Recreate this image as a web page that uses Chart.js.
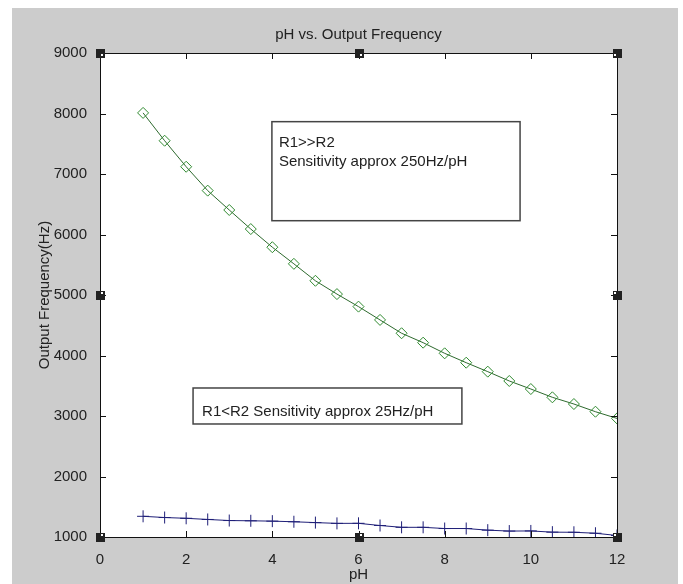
<!DOCTYPE html>
<html>
<head>
<meta charset="utf-8">
<title>pH vs. Output Frequency</title>
<script src="https://cdn.jsdelivr.net/npm/chart.js@4.4.0/dist/chart.umd.min.js"></script>
<style>
  html, body { margin: 0; padding: 0; background: #fff; }
  #wrap { position: relative; width: 683px; height: 584px; }
  #bg { position: absolute; left: 12px; top: 8px; width: 666px; height: 576px; background: #cccccc; }
  #chart { position: absolute; left: 0; top: 0; }
</style>
</head>
<body>
<div id="wrap">
  <div id="bg"></div>
  <canvas id="chart" width="683" height="584"></canvas>
</div>
<script>
// pH values on the x axis
const phValues = [1, 1.5, 2, 2.5, 3, 3.5, 4, 4.5, 5, 5.5, 6, 6.5, 7, 7.5, 8, 8.5, 9, 9.5, 10, 10.5, 11, 11.5, 12];

// R1>>R2 (green diamonds)
const freqHigh = [8010, 7550, 7120, 6725, 6405, 6090, 5790, 5515, 5235, 5015, 4808, 4588, 4368, 4212, 4036, 3881, 3733, 3579, 3446, 3309, 3198, 3071, 2960];

// R1<R2 (blue plus)
const freqLow = [1342, 1322, 1309, 1290, 1272, 1268, 1262, 1252, 1238, 1225, 1226, 1190, 1160, 1160, 1140, 1140, 1113, 1098, 1100, 1080, 1078, 1062, 1025];

// tick labels
const xTicks = [0, 2, 4, 6, 8, 10, 12];
const yTicks = [1000, 2000, 3000, 4000, 5000, 6000, 7000, 8000, 9000];

// text boxes, in data units
const notes = [
  { lines: ['R1>>R2', 'Sensitivity approx 250Hz/pH'], x0: 3.99, x1: 9.75, y0: 7865, y1: 6228, dx: 7, dy: 25, lh: 19 },
  { lines: ['R1<R2 Sensitivity approx 25Hz/pH'], x0: 2.16, x1: 8.4, y0: 3463, y1: 2868, dx: 9, dy: 28, lh: 19 }
];

const FONT = '"Liberation Sans", Arial, sans-serif';
const TEXT = '#222';

const matlabFrame = {
  id: 'matlabFrame',
  beforeDraw(chart) {
    const { ctx, chartArea: a } = chart;
    ctx.save();
    ctx.fillStyle = '#fff';
    ctx.fillRect(a.left, a.top, a.right - a.left, a.bottom - a.top);
    ctx.restore();
  },
  afterDraw(chart) {
    const { ctx, chartArea: a, scales } = chart;
    const xs = scales.x, ys = scales.y;
    ctx.save();

    // frame
    ctx.strokeStyle = '#111';
    ctx.lineWidth = 1;
    ctx.strokeRect(Math.round(a.left) + 0.5, Math.round(a.top) + 0.5,
      Math.round(a.right - a.left), Math.round(a.bottom - a.top));

    // inward ticks on all four sides
    const tl = 6;
    ctx.beginPath();
    xTicks.forEach(v => {
      const px = Math.round(xs.getPixelForValue(v)) + 0.5;
      ctx.moveTo(px, a.bottom); ctx.lineTo(px, a.bottom - tl);
      ctx.moveTo(px, a.top); ctx.lineTo(px, a.top + tl);
    });
    yTicks.forEach(v => {
      const py = Math.round(ys.getPixelForValue(v)) + 0.5;
      ctx.moveTo(a.left, py); ctx.lineTo(a.left + tl, py);
      ctx.moveTo(a.right, py); ctx.lineTo(a.right - tl, py);
    });
    ctx.stroke();

    // text boxes
    ctx.font = '15px ' + FONT;
    ctx.textBaseline = 'alphabetic';
    ctx.textAlign = 'left';
    notes.forEach(n => {
      const l = xs.getPixelForValue(n.x0), r = xs.getPixelForValue(n.x1);
      const t = ys.getPixelForValue(n.y0), b = ys.getPixelForValue(n.y1);
      ctx.strokeStyle = '#444';
      ctx.lineWidth = 1.5;
      ctx.strokeRect(l, t, r - l, b - t);
      ctx.fillStyle = TEXT;
      n.lines.forEach((s, i) => ctx.fillText(s, l + n.dx, t + n.dy + i * n.lh));
    });

    // selection handles (figure was in edit mode)
    const hx = [0, 6, 12], hy = [9000, 5000, 1000];
    hx.forEach((vx, i) => hy.forEach((vy, j) => {
      if (i === 1 && j === 1) return;
      const px = Math.round(xs.getPixelForValue(vx)), py = Math.round(ys.getPixelForValue(vy));
      ctx.fillStyle = '#222';
      ctx.fillRect(px - 4, py - 4, 9, 9);
      ctx.fillStyle = '#fff';
      const ix = i === 2 ? px - 3 : px + 1;
      const iy = j === 0 ? py + 1 : py - 3;
      ctx.fillRect(ix, iy, 2, 2);
    }));

    ctx.restore();
  }
};

const ctx = document.getElementById('chart').getContext('2d');
new Chart(ctx, {
  type: 'line',
  data: {
    datasets: [
      {
        label: 'R1>>R2',
        data: phValues.map((x, i) => ({ x: x, y: freqHigh[i] })),
        borderColor: '#2e6a2e',
        borderWidth: 1,
        pointStyle: 'rectRot',
        pointRadius: 5.5,
        pointBorderColor: '#2f8a2f',
        pointBackgroundColor: 'rgba(255,255,255,0)',
        pointBorderWidth: 1,
        tension: 0
      },
      {
        label: 'R1<R2',
        data: phValues.map((x, i) => ({ x: x, y: freqLow[i] })),
        borderColor: '#1f1f78',
        borderWidth: 1,
        pointStyle: 'cross',
        pointRadius: 6,
        pointBorderColor: '#1f1f78',
        pointBorderWidth: 1,
        tension: 0
      }
    ]
  },
  options: {
    responsive: false,
    animation: false,
    layout: { padding: { left: 0, right: 66, top: 0, bottom: 0 } },
    plugins: {
      legend: { display: false },
      tooltip: { enabled: false },
      title: {
        display: true,
        fullSize: false,
        text: 'pH vs. Output Frequency',
        color: TEXT,
        font: { family: FONT, size: 15, weight: 'normal' },
        padding: { top: 26, bottom: 9 }
      }
    },
    scales: {
      x: {
        type: 'linear',
        min: 0,
        max: 12,
        afterBuildTicks: s => { s.ticks = xTicks.map(v => ({ value: v })); },
        afterFit: s => { s.height = 47; },
        grid: { display: false },
        border: { display: false },
        ticks: { color: TEXT, font: { family: FONT, size: 15 }, padding: 6, maxRotation: 0, callback: v => String(v) },
        title: { display: true, text: 'pH', color: TEXT, font: { family: FONT, size: 15 }, padding: { top: 0, bottom: 0 } }
      },
      y: {
        type: 'linear',
        min: 1000,
        max: 9000,
        afterBuildTicks: s => { s.ticks = yTicks.map(v => ({ value: v })); },
        afterFit: s => { s.width = 100; },
        grid: { display: false },
        border: { display: false },
        ticks: { color: TEXT, font: { family: FONT, size: 15 }, padding: 5, callback: v => String(v) },
        title: { display: true, text: 'Output Frequency(Hz)', color: TEXT, font: { family: FONT, size: 15 }, padding: { top: 36, bottom: 0 } }
      }
    }
  },
  plugins: [matlabFrame]
});
</script>
</body>
</html>
